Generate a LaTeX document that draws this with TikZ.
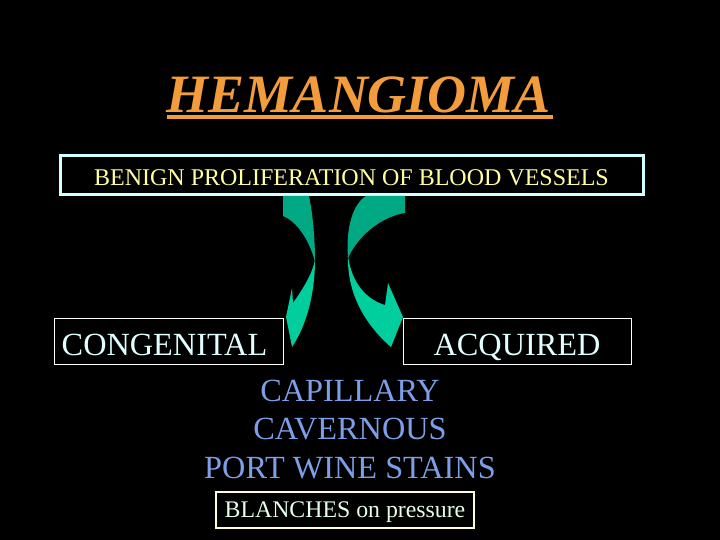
\documentclass[tikz,border=0pt]{standalone}
\usepackage{fontspec}
\setmainfont{Liberation Serif}
\definecolor{bg}{RGB}{0,0,0}
\definecolor{titleorange}{RGB}{242,156,60}
\definecolor{boxcyan}{RGB}{210,255,255}
\definecolor{paleyellow}{RGB}{255,255,160}
\definecolor{palecyan}{RGB}{225,255,255}
\definecolor{typeblue}{RGB}{125,158,232}
\definecolor{blanchtext}{RGB}{230,255,235}
\definecolor{blanchbox}{RGB}{255,255,210}
\definecolor{arrowdark}{RGB}{0,168,132}
\definecolor{arrowlight}{RGB}{0,206,156}
\tikzset{
  labelbox/.style={draw=white, line width=1pt, inner sep=0pt, minimum height=46pt,
    text=palecyan, font=\fontsize{32.3}{32.3}\selectfont, text height=28pt, text depth=0pt},
  typetext/.style={anchor=base, inner sep=0pt, text=typeblue, font=\fontsize{32.3}{32.3}\selectfont},
}
\begin{document}
\begin{tikzpicture}[x=1pt,y=-1pt]
\fill[bg] (0,0) rectangle (720,540);
\useasboundingbox (0,0) rectangle (720,540);

% title
\node[anchor=base, inner sep=0pt, text=titleorange,
  font=\fontsize{54}{54}\selectfont\bfseries\itshape] (title) at (359,113) {HEMANGIOMA};
\draw[titleorange, line width=3.5pt] ([yshift=-4pt]title.base west) -- ([yshift=-4pt, xshift=2pt]title.base east);

% top box
\node[draw=boxcyan, line width=3pt, inner sep=0pt, minimum width=583pt, minimum height=39pt,
  text=paleyellow, font=\fontsize{24}{24}\selectfont, text height=21pt, text depth=0pt]
  (benign) at (351.5,175.5) {BENIGN PROLIFERATION OF BLOOD VESSELS};

% left arrow
\fill[arrowdark] (283,196) -- (309,196) .. controls (313,215) and (315,240) .. (315,262)
  .. controls (310,242) and (298,222) .. (283,216) -- cycle;
\fill[arrowlight] (315,260) .. controls (315,285) and (310,320) .. (292,347)
  -- (286,317) -- (292,288) -- (293,303) .. controls (302,290) and (312,275) .. (315,260) -- cycle;

% right arrow
\fill[arrowdark] (366,196) -- (405,196) -- (405,213) .. controls (385,216) and (360,232) .. (348,258)
  .. controls (346,235) and (350,206) .. (366,196) -- cycle;
\fill[arrowlight] (348,256) .. controls (347,290) and (362,322) .. (391,347)
  -- (403,317) -- (388,283) -- (385,305) .. controls (368,300) and (352,285) .. (348,256) -- cycle;

% congenital / acquired
\node[labelbox, minimum width=229pt] (congenital) at (168.5,341) {CONGENITAL\kern8pt};
\node[labelbox, minimum width=228pt] (acquired) at (517,341) {ACQUIRED};

% types
\node[typetext] (capillary) at (350,401) {CAPILLARY};
\node[typetext] (cavernous) at (350,439.5) {CAVERNOUS};
\node[typetext] (portwine) at (350,478) {PORT WINE STAINS};

% blanches
\node[draw=blanchbox, line width=1.2pt, inner sep=0pt, minimum width=258pt, minimum height=36pt,
  text=blanchtext, font=\fontsize{23.8}{23.8}\selectfont, text height=14pt, text depth=0pt]
  (blanches) at (345,510) {BLANCHES on pressure};
\end{tikzpicture}
\end{document}
